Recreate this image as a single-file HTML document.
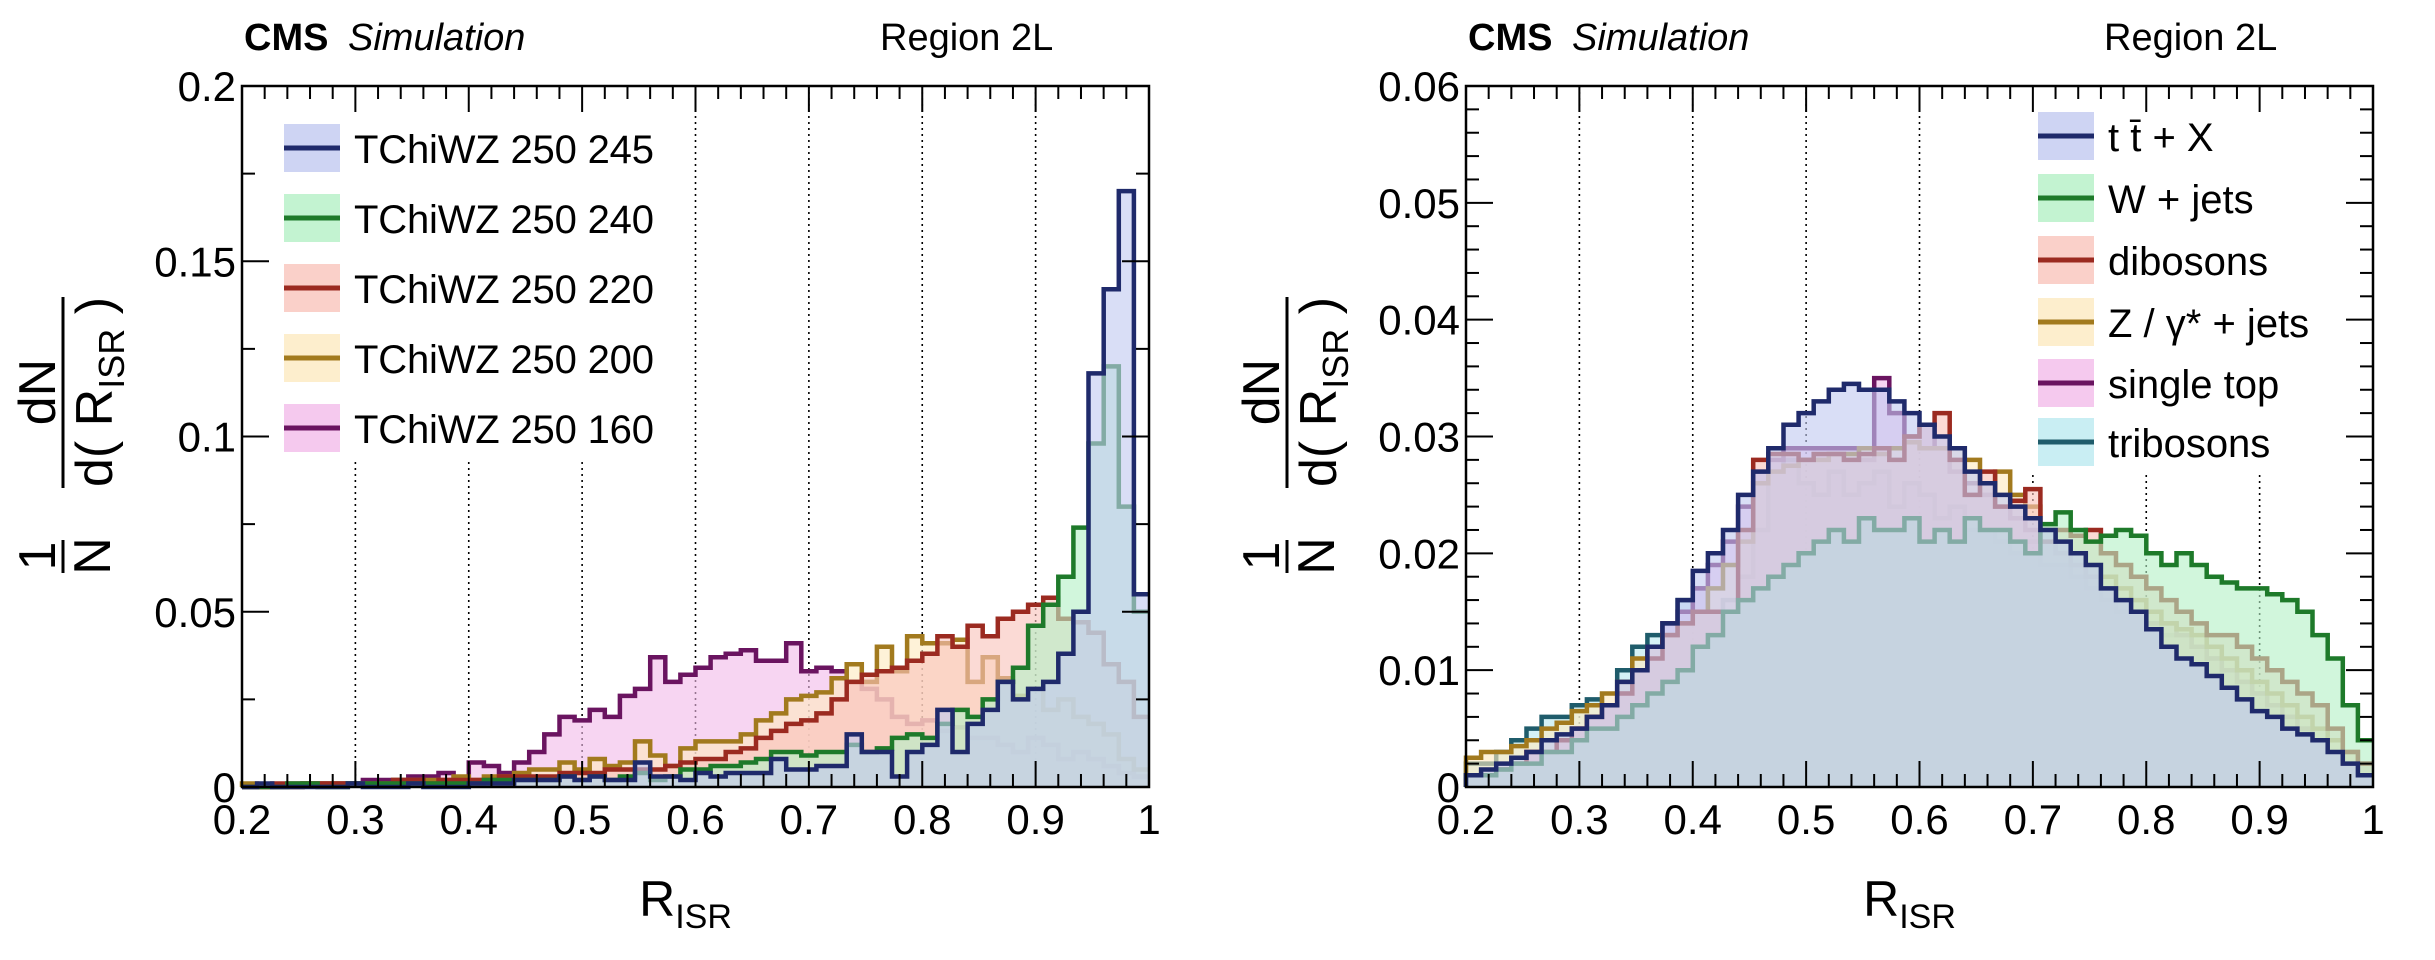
<!DOCTYPE html>
<html><head><meta charset="utf-8"><title>R_ISR distributions</title>
<style>
html,body{margin:0;padding:0;background:#fff;}
svg{display:block;font-family:"Liberation Sans",Arial,sans-serif;}
</style></head>
<body>
<svg id="fig" width="2435" height="960" viewBox="0 0 2435 960" xmlns="http://www.w3.org/2000/svg"></svg>
<script>
// ---------- LEFT PANEL DATA (60 bins, 0.2 - 1.0) ----------
const leftNames = ["TChiWZ 250 245","TChiWZ 250 240","TChiWZ 250 220","TChiWZ 250 200","TChiWZ 250 160"];
const left245 = [0,0.001,0,0,0,0,0,0.001,0,0,0,0.001,0,0,0,
 0.001,0.001,0.001,0.002,0.002,0.002,0.003,0.002,0.003,0.002,0.002,0.007,0.003,0.003,0.002,
 0.004,0.003,0.004,0.004,0.004,0.008,0.005,0.005,0.006,0.006,0.015,0.010,0.010,0.003,0.010,
 0.012,0.022,0.010,0.018,0.022,0.030,0.025,0.028,0.030,0.038,0.050,0.118,0.142,0.170,0.055];
const left240 = [0,0,0,0.001,0.001,0,0,0.001,0.001,0.001,0.001,0.001,0.001,0.001,0.001,
 0.001,0.002,0.002,0.002,0.002,0.002,0.003,0.002,0.003,0.002,0.003,0.004,0.002,0.003,0.005,
 0.005,0.006,0.006,0.007,0.008,0.010,0.010,0.009,0.010,0.010,0.012,0.010,0.011,0.014,0.015,
 0.014,0.018,0.022,0.020,0.025,0.030,0.034,0.046,0.052,0.060,0.074,0.098,0.120,0.080,0.050];
const left220 = [0,0,0.001,0.001,0.001,0.001,0.001,0.001,0.001,0.001,0.002,0.002,0.001,0.002,0.002,
 0.002,0.002,0.003,0.003,0.003,0.003,0.004,0.004,0.004,0.005,0.005,0.005,0.005,0.006,0.007,
 0.008,0.008,0.010,0.011,0.014,0.016,0.018,0.019,0.021,0.025,0.030,0.032,0.033,0.034,0.036,
 0.038,0.043,0.040,0.046,0.043,0.048,0.050,0.052,0.054,0.048,0.047,0.044,0.035,0.030,0.020];
const left200 = [0.001,0,0,0,0.001,0.001,0.001,0.001,0.001,0.001,0.002,0.002,0.002,0.002,0.003,
 0.002,0.003,0.003,0.004,0.005,0.005,0.007,0.005,0.008,0.006,0.007,0.013,0.009,0.006,0.011,
 0.013,0.013,0.013,0.015,0.019,0.021,0.025,0.026,0.027,0.031,0.035,0.030,0.040,0.033,0.043,
 0.041,0.041,0.042,0.030,0.037,0.031,0.026,0.028,0.022,0.025,0.020,0.018,0.015,0.008,0.005];
const left160 = [0,0,0,0,0.001,0.001,0.001,0.001,0.002,0.002,0.002,0.003,0.003,0.004,0.001,
 0.007,0.006,0.004,0.007,0.010,0.015,0.020,0.019,0.022,0.020,0.026,0.028,0.037,0.030,0.032,
 0.034,0.037,0.038,0.039,0.036,0.036,0.041,0.033,0.034,0.033,0.030,0.028,0.025,0.020,0.018,
 0.019,0.016,0.017,0.014,0.014,0.012,0.010,0.014,0.012,0.008,0.010,0.008,0.006,0.004,0.003];
const leftYTicks = ["0","0.05","0.1","0.15","0.2"];
const leftYVals = [0,0.05,0.1,0.15,0.2];

// ---------- RIGHT PANEL DATA ----------
const rightNames = ["t t\u0304 + X","W + jets","dibosons","Z / \u03b3* + jets","single top","tribosons"];
const rightTTX = [.001,.0015,.002,.0025,.003,.004,.0045,.005,.006,.007,
 .009,.010,.012,.014,.016,.0185,.020,.022,.025,.027,
 .029,.031,.032,.033,.034,.0345,.034,.034,.033,.032,
 .031,.030,.029,.027,.026,.025,.024,.023,.022,.021,
 .020,.019,.017,.016,.015,.0135,.012,.011,.0105,.0095,
 .0085,.0075,.0065,.006,.005,.0045,.004,.003,.002,.001];
const rightWjets = [.001,.001,.0015,.002,.002,.003,.003,.004,.005,.005,
 .006,.007,.008,.009,.010,.012,.013,.015,.016,.017,
 .018,.019,.020,.021,.022,.021,.023,.022,.022,.023,
 .021,.022,.021,.023,.022,.022,.021,.020,.0225,.0235,
 .022,.021,.0215,.022,.0215,.020,.019,.020,.019,.018,
 .0175,.017,.017,.0165,.016,.015,.013,.011,.007,.004];
const rightDibosons = [.001,.001,.0015,.002,.003,.003,.004,.005,.006,.007,
 .008,.010,.011,.013,.014,.015,.015,.015,.022,.028,
 .0285,.0285,.028,.0285,.0285,.028,.0285,.029,.028,.030,
 .031,.032,.028,.025,.027,.024,.0245,.0255,.021,.022,
 .0215,.022,.020,.019,.018,.017,.016,.015,.014,.013,
 .013,.012,.011,.010,.009,.008,.007,.005,.003,.002];
const rightZjets = [.0025,.003,.003,.0035,.004,.005,.0055,.0065,.007,.008,
 .009,.011,.012,.013,.014,.015,.017,.019,.021,.026,
 .027,.0275,.028,.028,.0285,.0285,.029,.0285,.029,.0295,
 .029,.029,.029,.028,.026,.027,.025,.024,.022,.021,
 .020,.019,.018,.017,.016,.015,.014,.0135,.013,.012,
 .011,.010,.009,.008,.007,.006,.005,.004,.003,.002];
const rightSingleTop = [.001,.001,.0015,.002,.003,.003,.004,.005,.006,.007,
 .008,.010,.012,.014,.015,.017,.019,.021,.024,.027,
 .028,.029,.029,.029,.029,.029,.028,.035,.032,.030,
 .031,.029,.027,.026,.025,.024,.023,.022,.021,.020,
 .019,.018,.017,.016,.015,.014,.014,.013,.012,.011,
 .010,.009,.008,.007,.006,.005,.004,.003,.002,.002];
const rightTribosons = [.002,.002,.003,.004,.005,.006,.006,.007,.0075,.007,
 .010,.012,.013,.014,.016,.017,.015,.016,.018,.022,
 .027,.028,.026,.025,.027,.025,.026,.027,.024,.026,
 .025,.023,.024,.022,.022,.021,.020,.021,.019,.019,
 .018,.017,.016,.015,.015,.014,.013,.013,.012,.011,
 .010,.009,.008,.007,.006,.005,.004,.003,.002,.002];
const rightYTicks = ["0","0.01","0.02","0.03","0.04","0.05","0.06"];
const rightYVals = [0,0.01,0.02,0.03,0.04,0.05,0.06];

const xTickLabels = ["0.2","0.3","0.4","0.5","0.6","0.7","0.8","0.9","1"];
const xTickVals = [0.2,0.3,0.4,0.5,0.6,0.7,0.8,0.9,1.0];

const NS = "http://www.w3.org/2000/svg";
const svg = document.getElementById("fig");
function mk(tag, attrs, parent){
  const e = document.createElementNS(NS, tag);
  for (const k in attrs) e.setAttribute(k, attrs[k]);
  (parent||svg).appendChild(e);
  return e;
}

const lineCols = ["#1f2a6b","#1e7a2a","#9b2a20","#a27a1e","#6a1460","#1f5c6b"];
const fillCols = ["#c2c9f0","#b4f0c6","#f9c4bc","#fdeac0","#f2bcea","#bceaf0"];

function panel(cfg){
  const g = mk("g", {});
  
  
  const X0 = cfg.x0, X1 = cfg.x1, Y0 = 86, YB = 787;
  const xs = v => X0 + (v - 0.2) / 0.8 * (X1 - X0);
  const ys = v => YB - Math.min(v, cfg.ymax) / cfg.ymax * (YB - Y0);

  xTickVals.slice(1, 8).forEach((v) => {
    const top = cfg.shortGrid.indexOf(v) >= 0 ? cfg.gridStart : Y0;
    const l = mk("line", {x1: xs(v), x2: xs(v), y1: top, y2: YB, stroke: "#000", "stroke-width": 1.6, "stroke-dasharray": "2,4"}, g);
    
    
  });

  const series = cfg.series;
  const n = series[0].length;
  const binW = 0.8 / n;
  const paths = series.map(arr => {
    let d = "M" + xs(0.2) + "," + YB;
    arr.forEach((v, i) => {
      d += " V" + ys(v).toFixed(1) + " H" + xs(0.2 + binW * (i + 1)).toFixed(1);
    });
    return d;
  });
  for (let s = series.length - 1; s >= 0; s--) {
    const f = mk("path", {d: paths[s] + " V" + YB + " Z", fill: fillCols[cfg.colIdx[s]], "fill-opacity": 0.62, stroke: "none"}, g);
    
    
    const p = mk("path", {d: paths[s], fill: "none", stroke: lineCols[cfg.colIdx[s]], "stroke-width": 4.5, "stroke-linejoin": "miter"}, g);
    
    
  }

  const fr = mk("rect", {x: X0, y: Y0, width: X1 - X0, height: YB - Y0, fill: "none", stroke: "#000", "stroke-width": 2.5}, g);
  
  

  for (let k = 0; k <= 40; k++) {
    const v = 0.2 + k * 0.02, major = k % 5 === 0, L = major ? 26 : 13, x = xs(v);
    mk("line", {x1: x, x2: x, y1: YB, y2: YB - L, stroke: "#000", "stroke-width": 2}, g);
    mk("line", {x1: x, x2: x, y1: Y0, y2: Y0 + L, stroke: "#000", "stroke-width": 2}, g);
  }
  xTickVals.forEach((v, i) => {
    const t = mk("text", {x: xs(v), y: 834, "font-size": 42, "text-anchor": "middle"}, g);
    t.textContent = xTickLabels[i];
    
    
  });
  const nMinor = Math.round(cfg.ymax / cfg.minorStep);
  for (let k = 0; k <= nMinor; k++) {
    const v = k * cfg.minorStep, major = k % cfg.majorEvery === 0, L = major ? 27 : 13, y = ys(v);
    mk("line", {x1: X0, x2: X0 + L, y1: y, y2: y, stroke: "#000", "stroke-width": 2}, g);
    mk("line", {x1: X1, x2: X1 - L, y1: y, y2: y, stroke: "#000", "stroke-width": 2}, g);
  }
  cfg.yVals.forEach((v, i) => {
    const t = mk("text", {x: X0 - 6, y: ys(v) + 15, "font-size": 42, "text-anchor": "end"}, g);
    t.textContent = cfg.yLabels[i];
    
    
  });

  const lg = mk("g", {}, g);
  
  
  cfg.names.forEach((nm, i) => {
    const cy = cfg.legY[i];
    const e = mk("g", {}, lg);
    
    
    mk("rect", {x: cfg.legX, y: cy - 24, width: 56, height: 48, fill: fillCols[cfg.colIdx[i]], "fill-opacity": 0.8}, e);
    mk("line", {x1: cfg.legX, x2: cfg.legX + 56, y1: cy, y2: cy, stroke: lineCols[cfg.colIdx[i]], "stroke-width": 5}, e);
    const t = mk("text", {x: cfg.legX + 70, y: cy + 15, "font-size": 40}, e);
    t.textContent = nm;
    if (cfg.legW) t.setAttribute("textLength", cfg.legW[i]);
  });

  const xt = mk("text", {x: (X0 + X1) / 2 - 10, y: 916, "font-size": 50, "text-anchor": "middle"}, g);
  
  
  xt.innerHTML = 'R<tspan font-size="34" dy="12">ISR</tspan>';

  const yg = mk("g", {transform: "translate(" + (X0 - 179) + ",0) rotate(-90)", "font-size": 52}, g);
  
  
  let t = mk("text", {x: -556, y: -8, "text-anchor": "middle"}, yg); t.textContent = "1";
  t = mk("text", {x: -556, y: 47, "text-anchor": "middle"}, yg); t.textContent = "N";
  mk("line", {x1: -573, x2: -540, y1: 0, y2: 0, stroke: "#000", "stroke-width": 3}, yg);
  t = mk("text", {x: -392, y: -8, "text-anchor": "middle"}, yg); t.textContent = "dN";
  t = mk("text", {x: -392, y: 49, "text-anchor": "middle"}, yg);
  t.innerHTML = 'd( R<tspan font-size="36" dy="12">ISR</tspan><tspan dy="-12"> )</tspan>';
  mk("line", {x1: -488, x2: -297, y1: 0, y2: 0, stroke: "#000", "stroke-width": 3}, yg);

  const cms = mk("text", {x: X0 + 2, y: 50, "font-size": 38, "font-weight": "bold"}, g);
  cms.textContent = "CMS";
  
  
  const sim = mk("text", {x: X0 + 106, y: 50, "font-size": 38, "font-style": "italic"}, g);
  sim.textContent = "Simulation";
  
  
  const reg = mk("text", {x: X0 + 638, y: 50, "font-size": 38}, g);
  reg.textContent = "Region 2L";
  
  
}

panel({name: "left-panel", x0: 242, x1: 1149, ymax: 0.2, minorStep: 0.025, majorEvery: 2,
  series: [left245, left240, left220, left200, left160], colIdx: [0,1,2,3,4],
  names: leftNames, legX: 284, legY: [148,218,288,358,428], legW: [300,300,300,300,300],
  yVals: leftYVals, yLabels: leftYTicks, shortGrid: [0.3,0.4,0.5], gridStart: 462});
panel({name: "right-panel", x0: 1466, x1: 2373, ymax: 0.06, minorStep: 0.002, majorEvery: 5,
  series: [rightTTX, rightWjets, rightDibosons, rightZjets, rightSingleTop, rightTribosons], colIdx: [0,1,2,3,4,5],
  names: rightNames, legX: 2038, legY: [136,198,260,322,383,442], legW: null,
  yVals: rightYVals, yLabels: rightYTicks, shortGrid: [0.7,0.8,0.9], gridStart: 475});
</script>
</body></html>
